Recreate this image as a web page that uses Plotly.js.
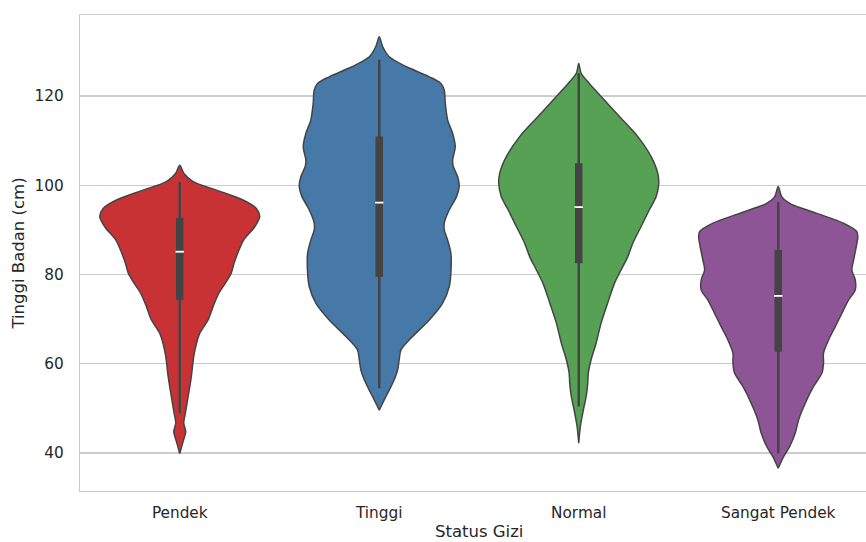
<!DOCTYPE html>
<html>
<head>
<meta charset="utf-8">
<script src="https://cdn.plot.ly/plotly-3.0.1.min.js"></script>
<style>
  html, body { margin: 0; padding: 0; background: #ffffff; }
  #chart { width: 866px; height: 542px; }
</style>
</head>
<body>
<div id="chart"></div>
<script>
// Status gizi categories, in drawing order
const categories = ['Pendek', 'Tinggi', 'Normal', 'Sangat Pendek'];
const fillColors = ['#c83235', '#4679a8', '#56a154', '#8d5596'];

// Density profile of each violin: height (cm) and half-width (category units)
const pendekHeight = [104.5, 102.7, 100.8, 98.9, 96.7, 94.8, 93.0, 90.7, 87.7, 84.7, 82.5, 80.3, 78.0, 75.8, 72.8, 69.8, 66.8, 64.6, 61.6, 57.1, 52.6, 48.9, 46.7, 44.8, 42.6, 39.9];
const pendekDensity = [0, 0.020, 0.067, 0.184, 0.317, 0.384, 0.401, 0.376, 0.320, 0.290, 0.272, 0.258, 0.228, 0.196, 0.167, 0.142, 0.100, 0.084, 0.070, 0.058, 0.042, 0.028, 0.020, 0.030, 0.017, 0];

const tinggiHeight = [133.3, 131.1, 128.8, 126.6, 124.3, 122.8, 121.3, 118.4, 114.6, 111.6, 108.6, 105.7, 104.2, 101.9, 99.7, 97.5, 94.5, 91.5, 90.0, 87.7, 84.8, 80.3, 77.3, 73.5, 69.8, 66.1, 63.1, 60.9, 58.6, 56.4, 54.1, 51.9, 49.6];
const tinggiDensity = [0, 0.017, 0.050, 0.134, 0.251, 0.309, 0.326, 0.331, 0.343, 0.368, 0.381, 0.368, 0.371, 0.393, 0.401, 0.388, 0.351, 0.326, 0.326, 0.343, 0.359, 0.359, 0.351, 0.317, 0.251, 0.167, 0.109, 0.100, 0.092, 0.075, 0.050, 0.025, 0];

const normalHeight = [127.3, 125.1, 122.8, 119.9, 115.4, 110.9, 106.4, 102.7, 100.4, 97.4, 94.5, 90.7, 87.0, 84.0, 81.0, 78.0, 73.6, 69.1, 64.6, 60.9, 57.9, 55.6, 52.6, 49.6, 45.9, 42.2];
const normalDensity = [0, 0.012, 0.053, 0.112, 0.204, 0.296, 0.363, 0.396, 0.401, 0.388, 0.354, 0.312, 0.271, 0.246, 0.212, 0.179, 0.145, 0.112, 0.087, 0.062, 0.048, 0.045, 0.037, 0.023, 0.008, 0];

const sangatPendekHeight = [99.7, 97.4, 95.9, 93.7, 91.5, 89.6, 88.5, 86.2, 83.3, 81.0, 78.8, 76.5, 74.3, 71.3, 68.3, 65.3, 62.4, 60.1, 57.9, 54.9, 51.1, 47.4, 44.4, 41.4, 39.2, 36.6];
const sangatPendekDensity = [0, 0.018, 0.060, 0.194, 0.327, 0.394, 0.399, 0.391, 0.378, 0.369, 0.386, 0.386, 0.353, 0.319, 0.286, 0.252, 0.227, 0.227, 0.219, 0.177, 0.135, 0.102, 0.085, 0.057, 0.027, 0];

const violinHeights = [pendekHeight, tinggiHeight, normalHeight, sangatPendekHeight];
const violinDensities = [pendekDensity, tinggiDensity, normalDensity, sangatPendekDensity];

// Inner box summary per category
const whiskerLow  = [48.9, 54.5, 50.4, 39.9];
const quartile1   = [74.3, 79.5, 82.5, 62.7];
const medians     = [85.1, 96.1, 95.1, 75.2];
const quartile3   = [92.7, 110.9, 104.9, 85.5];
const whiskerHigh = [100.7, 128.1, 125.1, 96.2];

// Y axis ticks
const yTicks = [40, 60, 80, 100, 120];

const outline = '#444444';
const traces = [];

categories.forEach((name, i) => {
  const ys = violinHeights[i];
  const ws = violinDensities[i];
  const px = [], py = [];
  for (let k = 0; k < ys.length; k++) { px.push(i + ws[k]); py.push(ys[k]); }
  for (let k = ys.length - 1; k >= 0; k--) { px.push(i - ws[k]); py.push(ys[k]); }
  traces.push({
    type: 'scatter', mode: 'lines', x: px, y: py,
    fill: 'toself', fillcolor: fillColors[i],
    line: { color: outline, width: 1.5, shape: 'spline', smoothing: 0.8 },
    hoverinfo: 'skip', showlegend: false
  });
});

// whiskers
categories.forEach((name, i) => {
  traces.push({
    type: 'scatter', mode: 'lines',
    x: [i, i], y: [whiskerLow[i], whiskerHigh[i]],
    line: { color: outline, width: 2.5 },
    hoverinfo: 'skip', showlegend: false
  });
});

// interquartile boxes
categories.forEach((name, i) => {
  traces.push({
    type: 'scatter', mode: 'lines',
    x: [i, i], y: [quartile1[i], quartile3[i]],
    line: { color: outline, width: 7.5 },
    hoverinfo: 'skip', showlegend: false
  });
});

// medians
traces.push({
  type: 'scatter', mode: 'markers',
  x: categories.map((c, i) => i), y: medians,
  marker: { symbol: 'line-ew', size: 6, line: { color: '#ffffff', width: 1.8 } },
  hoverinfo: 'skip', showlegend: false
});

const layout = {
  width: 866, height: 542,
  margin: { l: 80, r: 0, t: 15, b: 51 },
  paper_bgcolor: '#ffffff', plot_bgcolor: '#ffffff',
  font: { family: 'DejaVu Sans, sans-serif', color: '#262626' },
  showlegend: false,
  hovermode: false,
  xaxis: {
    type: 'linear',
    range: [-0.5, 3.44],
    tickvals: categories.map((c, i) => i),
    ticktext: categories,
    tickfont: { size: 15.3, color: '#262626' },
    ticks: 'outside', ticklen: 7, tickcolor: 'rgba(0,0,0,0)',
    showgrid: false, zeroline: false,
    showline: true, mirror: true, linecolor: '#cccccc', linewidth: 1.3,
    automargin: false, fixedrange: true
  },
  yaxis: {
    range: [31.48, 138.15],
    tickvals: yTicks,
    tickfont: { size: 15.3, color: '#262626' },
    ticks: 'outside', ticklen: 12, tickcolor: 'rgba(0,0,0,0)',
    showgrid: true, gridcolor: '#cccccc', gridwidth: 1.1,
    zeroline: false,
    showline: true, mirror: false, linecolor: '#cccccc', linewidth: 1.3,
    title: { text: 'Tinggi Badan (cm)', font: { size: 16.5, color: '#262626' }, standoff: 5 },
    automargin: false, fixedrange: true
  },
  // x-axis title, placed as a paper annotation so it can sit near the bottom edge
  annotations: [{
    text: 'Status Gizi',
    xref: 'x', x: 1.5, yref: 'paper', y: -0.0861,
    xanchor: 'center', yanchor: 'middle',
    borderpad: 0,
    showarrow: false,
    font: { size: 16.5, color: '#262626' }
  }]
};

Plotly.newPlot('chart', traces, layout, { staticPlot: true, displayModeBar: false });
</script>
</body>
</html>
